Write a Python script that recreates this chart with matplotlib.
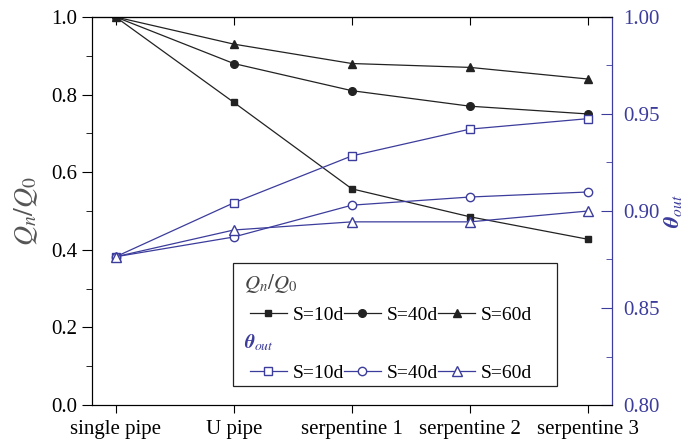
import matplotlib
matplotlib.use("Agg")
import matplotlib.pyplot as plt
from matplotlib.lines import Line2D
from matplotlib.patches import Rectangle
from matplotlib.ticker import MultipleLocator

plt.rcParams["font.family"] = ["Liberation Serif", "DejaVu Serif"]
plt.rcParams["mathtext.fontset"] = "stix"

categories = ["single pipe", "U pipe", "serpentine 1", "serpentine 2", "serpentine 3"]

q_10d = [1.0, 0.78, 0.557, 0.485, 0.427]
q_40d = [1.0, 0.88, 0.81, 0.77, 0.75]
q_60d = [1.0, 0.93, 0.88, 0.87, 0.84]

theta_10d = [0.8764, 0.9042, 0.9284, 0.9422, 0.9476]
theta_40d = [0.8764, 0.8866, 0.903, 0.9072, 0.9098]
theta_60d = [0.8764, 0.8902, 0.8944, 0.8944, 0.900]

BLUE = "#3c3c9c"
BLACK = "#222222"
FS = 15


def main() -> None:
    fig = plt.figure(figsize=(6.84, 4.44), dpi=100)
    ax = fig.add_axes([0.1345, 0.0878, 0.760, 0.874])
    x = list(range(len(categories)))

    ax.plot(x, q_10d, color=BLACK, lw=0.9, marker="s", ms=5)
    ax.plot(x, q_40d, color=BLACK, lw=0.9, marker="o", ms=5.5)
    ax.plot(x, q_60d, color=BLACK, lw=0.9, marker="^", ms=6)

    ax.set_xlim(-0.2, 4.2)
    ax.set_ylim(0.0, 1.0)
    ax.set_xticks(x)
    ax.set_xticklabels(categories, fontsize=FS)
    ax.yaxis.set_major_locator(MultipleLocator(0.2))
    ax.yaxis.set_minor_locator(MultipleLocator(0.1))
    ax.yaxis.set_major_formatter(plt.FormatStrFormatter("%.1f"))
    ax.tick_params(axis="y", which="major", direction="out", length=7, labelsize=FS)
    ax.tick_params(axis="y", which="minor", direction="out", length=4)
    ax.tick_params(axis="x", direction="out", length=6, pad=5)
    ax.set_ylabel(r"$Q_n/Q_0$", fontsize=20, color="#555555")
    ax.yaxis.set_label_coords(-0.1, 0.5)

    ax2 = ax.twinx()
    ax2.plot(x, theta_10d, color=BLUE, lw=0.9, marker="s", ms=5.5, mfc="white", mec=BLUE)
    ax2.plot(x, theta_40d, color=BLUE, lw=0.9, marker="o", ms=6, mfc="white", mec=BLUE)
    ax2.plot(x, theta_60d, color=BLUE, lw=0.9, marker="^", ms=6.5, mfc="white", mec=BLUE)
    ax2.set_ylim(0.80, 1.00)
    ax2.yaxis.set_major_locator(MultipleLocator(0.05))
    ax2.yaxis.set_minor_locator(MultipleLocator(0.025))
    ax2.yaxis.set_major_formatter(plt.FormatStrFormatter("%.2f"))
    ax2.tick_params(axis="y", which="major", direction="in", length=8, labelsize=FS,
                    colors=BLUE, pad=8)
    ax2.tick_params(axis="y", which="minor", direction="in", length=4, colors=BLUE)
    ax2.spines["right"].set_color(BLUE)
    ax2.set_ylabel(r"$\boldsymbol{\theta}_{out}$", fontsize=16, color=BLUE)
    ax2.yaxis.set_label_coords(1.097, 0.5)

    # top ticks pointing inward
    sec = ax.secondary_xaxis("top")
    sec.set_xticks(x)
    sec.set_xticklabels([])
    sec.tick_params(direction="in", length=6)

    # legend box with two groups
    ax.add_patch(Rectangle((0.271, 0.049), 0.623, 0.317, transform=ax.transAxes,
                           fill=False, ec=BLACK, lw=0.9, zorder=5))
    ax.text(0.292, 0.312, r"$Q_n/Q_0$", transform=ax.transAxes, fontsize=15,
            color="#444444", va="center")
    ax.text(0.292, 0.16, r"$\boldsymbol{\theta}_{out}$", transform=ax.transAxes,
            fontsize=14, color=BLUE, va="center")

    q_handles = [
        Line2D([], [], color=BLACK, lw=0.9, marker="s", ms=5),
        Line2D([], [], color=BLACK, lw=0.9, marker="o", ms=5.5),
        Line2D([], [], color=BLACK, lw=0.9, marker="^", ms=6),
    ]
    t_handles = [
        Line2D([], [], color=BLUE, lw=0.9, marker="s", ms=5.5, mfc="white", mec=BLUE),
        Line2D([], [], color=BLUE, lw=0.9, marker="o", ms=6, mfc="white", mec=BLUE),
        Line2D([], [], color=BLUE, lw=0.9, marker="^", ms=6.5, mfc="white", mec=BLUE),
    ]
    labels = ["S=10d", "S=40d", "S=60d"]
    leg_kw = dict(ncol=3, frameon=False, fontsize=14, loc="center left",
                  handlelength=1.9, handletextpad=0.3, columnspacing=0.0,
                  borderpad=0)
    leg1 = ax.legend(q_handles, labels, bbox_to_anchor=(0.285, 0.232), **leg_kw)
    ax.add_artist(leg1)
    ax.legend(t_handles, labels, bbox_to_anchor=(0.285, 0.082), **leg_kw)

    fig.savefig("out.png", dpi=100)
    plt.close(fig)


if __name__ == "__main__":
    main()
